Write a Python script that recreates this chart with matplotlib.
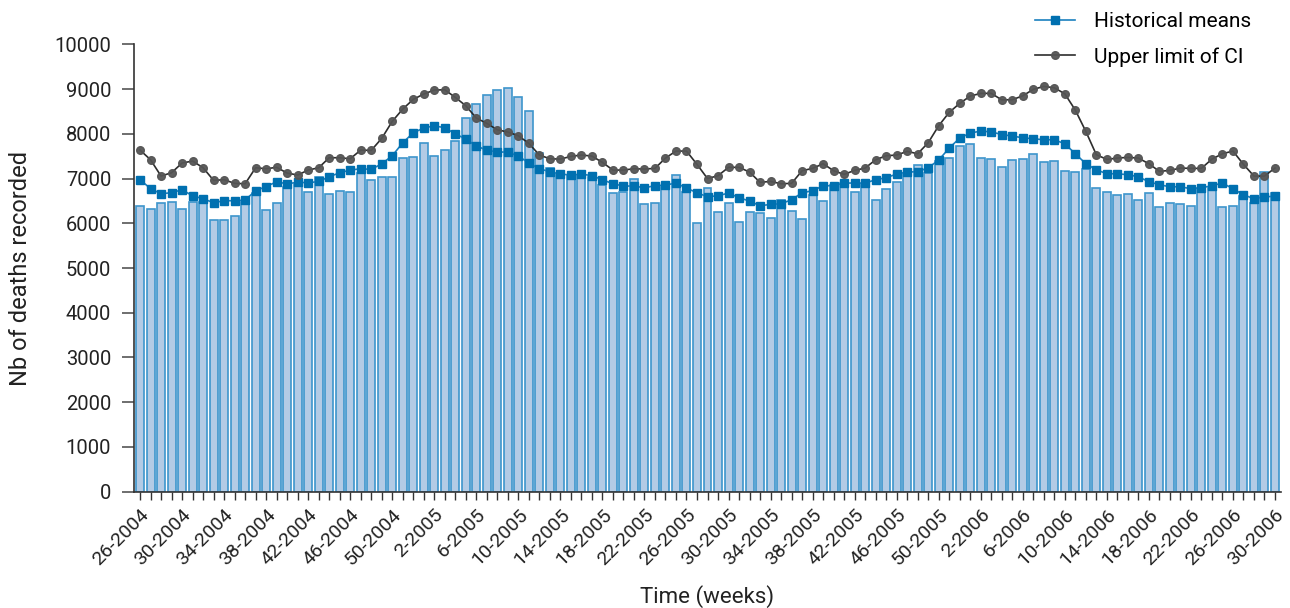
#!/usr/bin/env python3
"""Weekly deaths recorded vs historical means and upper CI limit."""

import matplotlib
matplotlib.use("Agg")
import matplotlib.pyplot as plt
import numpy as np

plt.rcParams["font.family"] = ["Roboto", "DejaVu Sans"]

# weeks 26-2004 .. 30-2006 (52-week years)
WEEKS = ([f"{w}-2004" for w in range(26, 53)]
         + [f"{w}-2005" for w in range(1, 53)]
         + [f"{w}-2006" for w in range(1, 31)])

DEATHS = [
    6390, 6310, 6460, 6470, 6330, 6480, 6480, 6080, 6070, 6170,
    6470, 6680, 6300, 6450, 6820, 6880, 6700, 7030, 6660, 6720,
    6710, 7120, 6970, 7030, 7030, 7470, 7480, 7790, 7510, 7640,
    7850, 8350, 8670, 8870, 8970, 9030, 8830, 8510, 7580, 7240,
    7100, 7070, 7090, 7040, 6860, 6670, 6690, 7000, 6430, 6460,
    6810, 7090, 6690, 6010, 6795, 6250, 6460, 6020, 6260, 6230,
    6120, 6530, 6280, 6090, 6625, 6500, 6850, 6890, 6710, 6880,
    6510, 6770, 6920, 7100, 7310, 7120, 7390, 7470, 7720, 7780,
    7460, 7430, 7265, 7420, 7440, 7550, 7370, 7400, 7160, 7140,
    7205, 6795, 6700, 6640, 6660, 6520, 6680, 6360, 6460, 6430,
    6380, 6780, 6780, 6360, 6380, 6600, 6460, 7150, 6670,
]

HIST_MEAN = [
    6975, 6775, 6660, 6685, 6750, 6615, 6550, 6460, 6505, 6505,
    6520, 6730, 6820, 6930, 6880, 6920, 6905, 6935, 7040, 7130,
    7190, 7220, 7205, 7330, 7510, 7800, 8024, 8130, 8180, 8136,
    8000, 7883, 7727, 7637, 7593, 7593, 7503, 7347, 7220, 7153,
    7101, 7079, 7101, 7064, 6974, 6884, 6833, 6833, 6795, 6840,
    6855, 6900, 6788, 6683, 6594, 6616, 6676, 6572, 6497, 6392,
    6423, 6437, 6527, 6683, 6728, 6840, 6840, 6900, 6900, 6900,
    6974, 7019, 7101, 7146, 7153, 7242, 7414, 7682, 7906, 8017,
    8062, 8044, 7985, 7950, 7912, 7890, 7868, 7868, 7778, 7555,
    7332, 7197, 7108, 7108, 7086, 7041, 6929, 6862, 6817, 6817,
    6773, 6795, 6840, 6900, 6773, 6638, 6549, 6594, 6602,
]

UPPER_CI = [
    7637, 7421, 7056, 7131, 7347, 7392, 7242, 6960, 6974, 6893,
    6884, 7242, 7220, 7251, 7123, 7079, 7190, 7242, 7466, 7466,
    7443, 7637, 7630, 7899, 8279, 8554, 8771, 8890, 8979, 8985,
    8815, 8628, 8353, 8234, 8091, 8040, 7957, 7787, 7526, 7443,
    7436, 7496, 7526, 7503, 7362, 7190, 7190, 7220, 7213, 7228,
    7458, 7615, 7615, 7318, 7000, 7064, 7251, 7251, 7146, 6915,
    6937, 6884, 6893, 7175, 7228, 7332, 7175, 7094, 7183, 7235,
    7421, 7510, 7526, 7608, 7555, 7801, 8181, 8480, 8681, 8844,
    8905, 8905, 8760, 8762, 8851, 8994, 9061, 9030, 8896, 8531,
    8055, 7533, 7429, 7458, 7474, 7458, 7332, 7161, 7183, 7235,
    7228, 7228, 7436, 7555, 7615, 7318, 7056, 7056, 7235,
]

Y_TICKS = np.arange(0, 10001, 1000)

fig = plt.figure(figsize=(12.9, 6.08), dpi=100)
ax = fig.add_axes([0.1035, 0.1913, 0.8895, 0.7357])

x = np.arange(len(WEEKS))
ax.bar(x, DEATHS, width=0.76, color="#b3cbe5", edgecolor="#3d95cc",
       linewidth=1.2, zorder=2)
ax.plot(x, HIST_MEAN, color="#1a80bf", lw=1.2, marker="s", ms=6,
        mfc="#0070b0", mec="#0070b0", label="Historical means", zorder=3)
ax.plot(x, UPPER_CI, color="#222222", lw=1.2, marker="o", ms=5.5,
        mfc="#555555", mec="#555555", alpha=0.95,
        label="Upper limit of CI", zorder=4)

ax.set_xlim(-0.62, len(WEEKS) - 1 + 0.57)
ax.set_ylim(0, 10000)
ax.set_yticks(Y_TICKS)
ax.set_yticklabels([str(v) for v in Y_TICKS])
ax.set_xticks(x, minor=True)
ax.set_xticks(x[::4])
ax.set_xticklabels(WEEKS[::4], rotation=45, ha="right",
                   rotation_mode="anchor")

for side in ("top", "right"):
    ax.spines[side].set_visible(False)
for side in ("left", "bottom"):
    ax.spines[side].set_color("#333333")
    ax.spines[side].set_linewidth(1.2)

ax.tick_params(axis="y", direction="out", length=9, width=1.2,
               color="#555555", labelsize=14.5, labelcolor="#222222", pad=7)
ax.tick_params(axis="x", which="both", direction="out", length=6, width=1.0,
               color="#333333", labelsize=14, labelcolor="#222222", pad=4)

ax.set_ylabel("Nb of deaths recorded", fontsize=17, color="#222222",
              labelpad=16)
ax.set_xlabel("Time (weeks)", fontsize=16, color="#222222", labelpad=12)

ax.legend(loc="upper right", bbox_to_anchor=(0.981, 1.09), frameon=False,
          fontsize=15, handlelength=1.9, labelspacing=0.75,
          handletextpad=0.9, borderaxespad=0.0)

fig.savefig("out.png", dpi=100)
